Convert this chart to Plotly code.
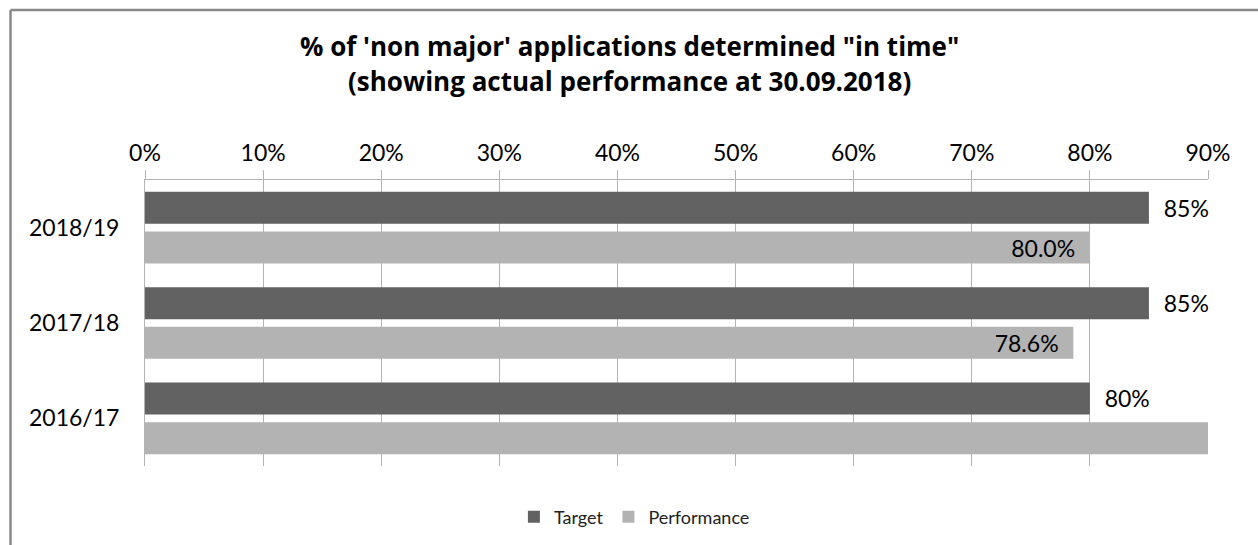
import plotly.graph_objects as go

categories = ["2018/19", "2017/18", "2016/17"]
target = [0.85, 0.85, 0.80]
performance = [0.800, 0.786, 0.92]
tick_vals = [0, 0.1, 0.2, 0.3, 0.4, 0.5, 0.6, 0.7, 0.8, 0.9]
tick_text = ["0%", "10%", "20%", "30%", "40%", "50%", "60%", "70%", "80%", "90%"]
title_lines = ["% of 'non major' applications determined \"in time\"",
               "(showing actual performance at 30.09.2018)"]

X_MAX = 0.9
FONT = "Lato"
TITLE_FONT = "Open Sans"
NB = "\u00a0"

W, H = 1258, 545
L, R, T, B = 144.5, 50.3, 180, 79
pw, ph = W - L - R, H - T - B

target_text = [NB * 2 + f"{v:.0%}" for v in target]
perf_text = [(f"{v:.1%}" + NB * 2) if v < X_MAX else "" for v in performance]

fig = go.Figure()
fig.add_trace(go.Bar(
    y=categories, x=target, orientation="h", name="Target",
    marker=dict(color="#626262", line=dict(width=0)),
    text=target_text, textposition="outside", cliponaxis=False,
    textfont=dict(family=FONT, size=23, color="#000000"),
    hoverinfo="x+y",
))
fig.add_trace(go.Bar(
    y=categories, x=performance, orientation="h", name="Performance",
    marker=dict(color="#b3b3b3", line=dict(width=0)),
    text=perf_text, textposition="inside", insidetextanchor="end",
    textfont=dict(family=FONT, size=23, color="#000000"),
    constraintext="none", cliponaxis=True,
    hoverinfo="x+y",
))


def px2x(px):
    return (px - L) / pw


def py2y(py):
    return (H - B - py) / ph


# outer chart border (left and top edges visible)
fig.add_shape(type="line", xref="paper", yref="paper",
              x0=px2x(10), x1=px2x(10), y0=py2y(H + 20), y1=py2y(10),
              line=dict(color="#888888", width=2.5), layer="above")
fig.add_shape(type="line", xref="paper", yref="paper",
              x0=px2x(10), x1=px2x(W + 20), y0=py2y(10), y1=py2y(10),
              line=dict(color="#888888", width=2.5), layer="above")

for line, yc in zip(title_lines, [46, 81]):
    fig.add_annotation(text="<b>" + line + "</b>", xref="paper", yref="paper",
                       x=px2x(629), y=py2y(yc), xanchor="center", yanchor="middle",
                       showarrow=False,
                       font=dict(family=TITLE_FONT, size=26, color="#000000"))

fig.update_layout(
    width=W, height=H,
    margin=dict(l=L, r=R, t=T, b=B, autoexpand=False),
    paper_bgcolor="white", plot_bgcolor="white",
    barmode="group", bargap=0.167, bargroupgap=0.194,
    font=dict(family=FONT, color="#000000"),
    showlegend=True,
    legend=dict(orientation="h", x=px2x(634), xanchor="center",
                y=py2y(517), yanchor="middle",
                font=dict(family=FONT, size=18, color="#222222"),
                itemwidth=30, traceorder="normal"),
    xaxis=dict(side="top", range=[0, X_MAX], tickvals=tick_vals, ticktext=tick_text,
               showgrid=True, gridcolor="#b3b3b3", gridwidth=1,
               showline=True, linecolor="#b3b3b3", linewidth=1,
               ticks="outside", ticklen=9, tickcolor="#b3b3b3",
               tickfont=dict(family=FONT, size=23, color="#000000"),
               zeroline=False, fixedrange=True),
    yaxis=dict(categoryorder="array", categoryarray=categories, autorange="reversed",
               showline=True, linecolor="#b3b3b3", linewidth=1,
               ticks="", ticklabelstandoff=20, showgrid=False,
               tickfont=dict(family=FONT, size=23, color="#000000"),
               fixedrange=True),
)

fig.write_html("out.html")
